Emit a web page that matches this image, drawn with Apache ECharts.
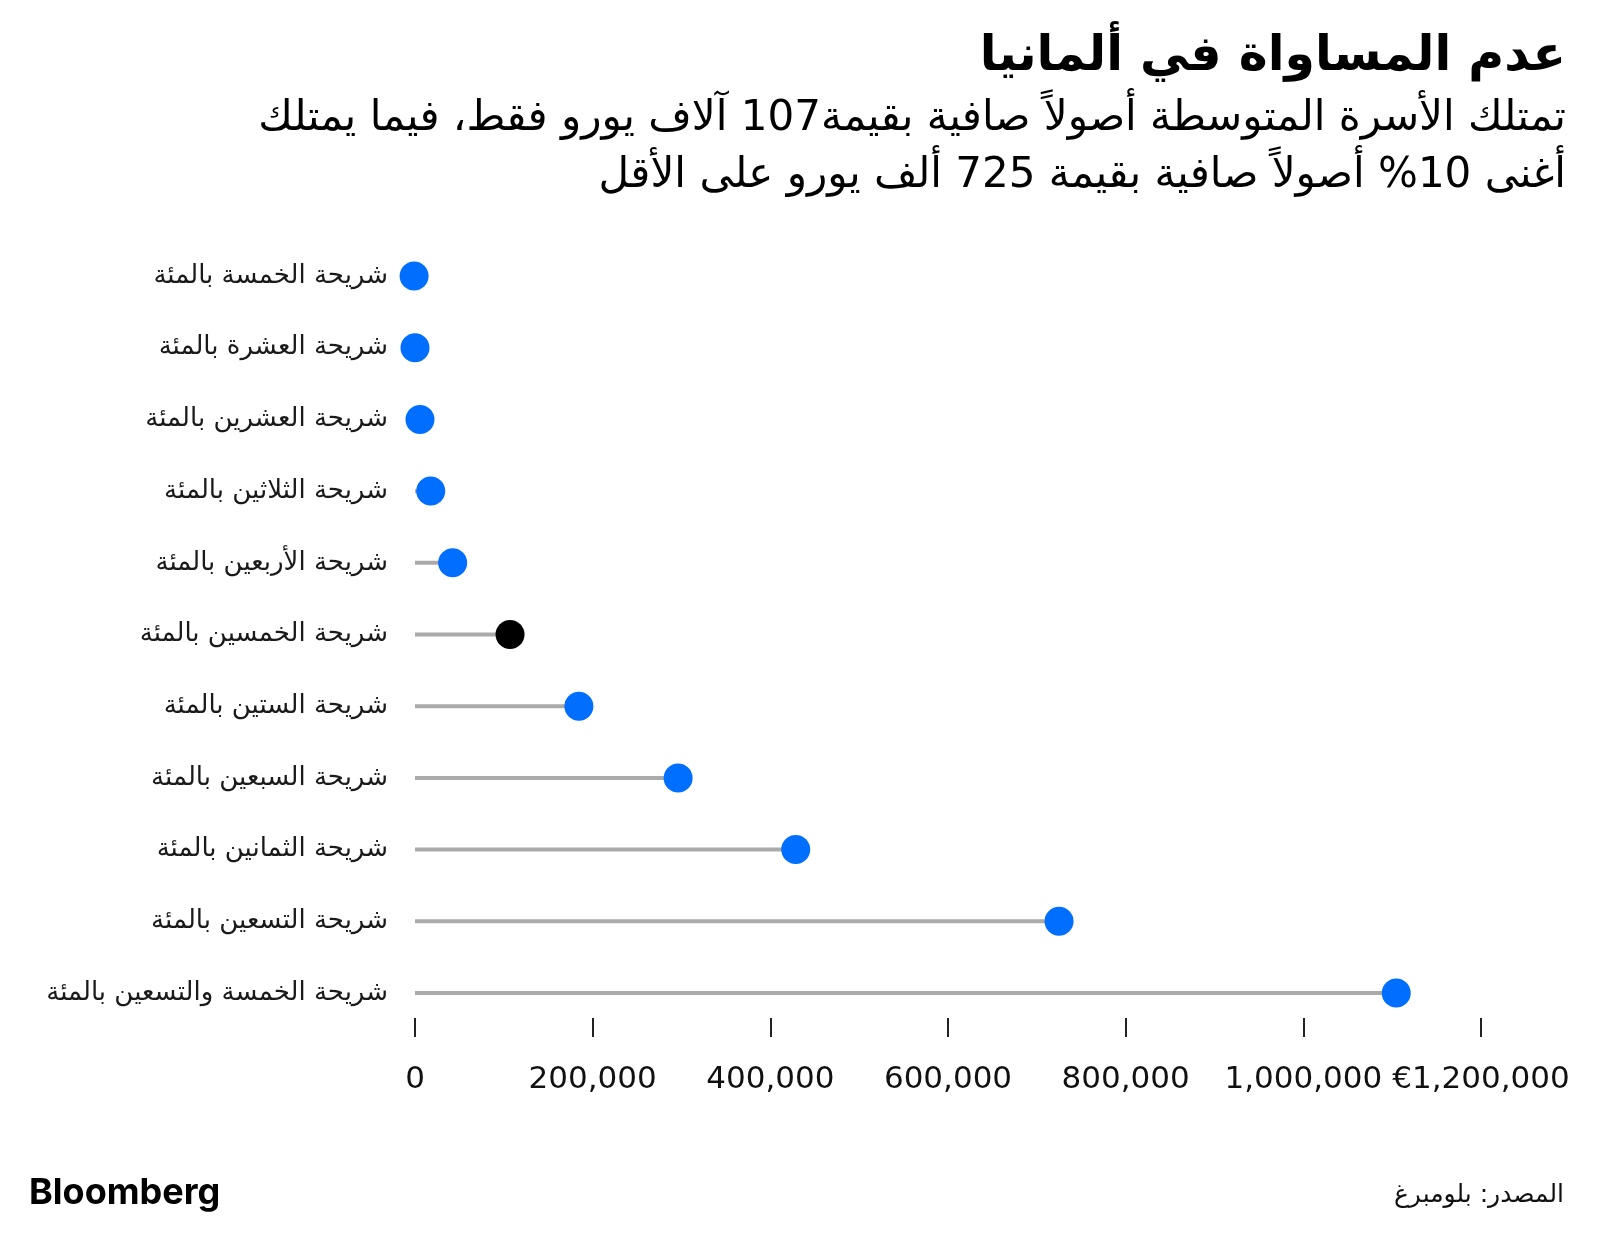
<!DOCTYPE html>
<html>
<head>
<meta charset="utf-8">
<script src="https://cdn.jsdelivr.net/npm/echarts@6/dist/echarts.min.js"></script>
<style>
html,body{margin:0;padding:0;background:#fff;}
#chart{width:1600px;height:1234px;direction:rtl;}
</style>
</head>
<body>
<div id="chart"></div>
<script>
const categories = [
  'شريحة الخمسة بالمئة',
  'شريحة العشرة بالمئة',
  'شريحة العشرين بالمئة',
  'شريحة الثلاثين بالمئة',
  'شريحة الأربعين بالمئة',
  'شريحة الخمسين بالمئة',
  'شريحة الستين بالمئة',
  'شريحة السبعين بالمئة',
  'شريحة الثمانين بالمئة',
  'شريحة التسعين بالمئة',
  'شريحة الخمسة والتسعين بالمئة'
];
const netWealth = [-1000, 0, 5600, 17700, 42400, 107000, 184500, 296200, 428600, 725000, 1104600];
const medianIndex = 5;
const xTickLabels = ['0', '200,000', '400,000', '600,000', '800,000', '1,000,000', '€1,200,000'];
const titleText = 'عدم المساواة في ألمانيا';
const subtitleLines = [
  'تمتلك الأسرة المتوسطة أصولاً صافية بقيمة107 آلاف يورو فقط، فيما يمتلك',
  'أغنى 10% أصولاً صافية بقيمة 725 ألف يورو على الأقل'
];
const sourceText = 'المصدر: بلومبرغ';
const brandText = 'Bloomberg';

const AR = '"DejaVu Sans", sans-serif';
const chart = echarts.init(document.getElementById('chart'), null, {renderer: 'canvas'});

const option = {
  backgroundColor: '#ffffff',
  animation: false,
  grid: {left: 415, right: 119, top: 276, bottom: 241, containLabel: false},
  xAxis: {
    type: 'value',
    min: 0, max: 1200000, interval: 200000,
    position: 'bottom',
    offset: 25,
    axisLine: {show: false},
    axisTick: {show: true, length: 19, lineStyle: {color: '#222', width: 2}},
    splitLine: {show: false},
    axisLabel: {
      margin: 46,
      fontSize: 31,
      color: '#111',
      fontFamily: '"DejaVu Sans", sans-serif',
      formatter: function (v) {
        const i = Math.round(v / 200000);
        return xTickLabels[i] !== undefined ? xTickLabels[i] : '';
      }
    }
  },
  yAxis: {
    type: 'category',
    data: categories,
    inverse: true,
    boundaryGap: false,
    axisLine: {show: false},
    axisTick: {show: false},
    splitLine: {show: false},
    axisLabel: {margin: 27, fontSize: 26, color: '#1a1a1a', fontFamily: AR}
  },
  series: [
    {
      type: 'bar',
      data: netWealth,
      barWidth: 4,
      itemStyle: {color: '#aaaaaa'},
      silent: true,
      z: 1
    },
    {
      type: 'scatter',
      data: netWealth.map(function (v, i) {
        return {value: v, itemStyle: {color: i === medianIndex ? '#000000' : '#006eff', opacity: 1}};
      }),
      symbol: 'circle',
      symbolSize: 29,
      itemStyle: {opacity: 1},
      clip: false,
      z: 3
    }
  ],
  graphic: [
    {type: 'text', style: {text: titleText, x: 1566, y: 57, align: 'right', verticalAlign: 'middle', font: 'bold 49px ' + AR, fill: '#000'}},
    {type: 'text', style: {text: subtitleLines[0], x: 1566, y: 119, align: 'right', verticalAlign: 'middle', font: '42px ' + AR, fill: '#000'}},
    {type: 'text', style: {text: subtitleLines[1], x: 1566, y: 176, align: 'right', verticalAlign: 'middle', font: '42px ' + AR, fill: '#000'}},
    {type: 'text', style: {text: brandText, x: 29, y: 1193, align: 'left', verticalAlign: 'middle', font: 'bold 36px Inter, "Liberation Sans", sans-serif', fill: '#000'}},
    {type: 'text', style: {text: sourceText, x: 1564, y: 1195, align: 'right', verticalAlign: 'middle', font: '25px ' + AR, fill: '#111'}}
  ]
};
chart.setOption(option);
</script>
</body>
</html>
